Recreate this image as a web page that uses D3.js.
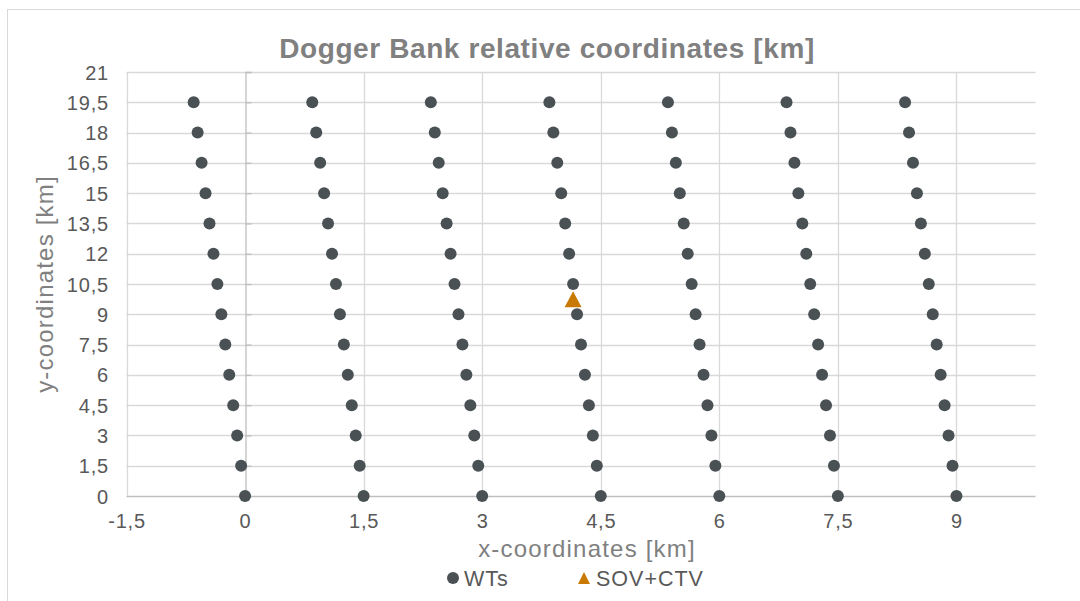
<!DOCTYPE html>
<html>
<head>
<meta charset="utf-8">
<script src="https://cdn.jsdelivr.net/npm/d3@7"></script>
<style>
  html, body { margin: 0; padding: 0; background: #fff; }
  svg { display: block; font-family: "Liberation Sans", Arial, sans-serif; }
</style>
</head>
<body>
<svg id="chart" width="1080" height="601"></svg>
<script>
// Row positions (y, km) shared by every turbine string
const rowY = [0, 1.5, 3, 4.5, 6, 7.5, 9, 10.5, 12, 13.5, 15, 16.5, 18, 19.5];

// x positions (km) of each turbine string, listed from row 0 up to row 19,5
const stringA = [0.00, -0.05, -0.10, -0.15, -0.20, -0.25, -0.30, -0.35, -0.40, -0.45, -0.50, -0.55, -0.60, -0.65];
const stringB = [1.50, 1.45, 1.40, 1.35, 1.30, 1.25, 1.20, 1.15, 1.10, 1.05, 1.00, 0.95, 0.90, 0.85];
const stringC = [3.00, 2.95, 2.90, 2.85, 2.80, 2.75, 2.70, 2.65, 2.60, 2.55, 2.50, 2.45, 2.40, 2.35];
const stringD = [4.50, 4.45, 4.40, 4.35, 4.30, 4.25, 4.20, 4.15, 4.10, 4.05, 4.00, 3.95, 3.90, 3.85];
const stringE = [6.00, 5.95, 5.90, 5.85, 5.80, 5.75, 5.70, 5.65, 5.60, 5.55, 5.50, 5.45, 5.40, 5.35];
const stringF = [7.50, 7.45, 7.40, 7.35, 7.30, 7.25, 7.20, 7.15, 7.10, 7.05, 7.00, 6.95, 6.90, 6.85];
const stringG = [9.00, 8.95, 8.90, 8.85, 8.80, 8.75, 8.70, 8.65, 8.60, 8.55, 8.50, 8.45, 8.40, 8.35];
const turbineStrings = [stringA, stringB, stringC, stringD, stringE, stringF, stringG];

// Vessel position (SOV+CTV)
const vesselX = [4.15];
const vesselY = [9.75];

// Axis ticks
const xTicks = [-1.5, 0, 1.5, 3, 4.5, 6, 7.5, 9];
const yTicks = [0, 1.5, 3, 4.5, 6, 7.5, 9, 10.5, 12, 13.5, 15, 16.5, 18, 19.5, 21];
const xTickLabels = ["-1,5", "0", "1,5", "3", "4,5", "6", "7,5", "9"];
const yTickLabels = ["0", "1,5", "3", "4,5", "6", "7,5", "9", "10,5", "12", "13,5", "15", "16,5", "18", "19,5", "21"];

const legendItems = ["WTs", "SOV+CTV"];
const titleText = "Dogger Bank relative coordinates [km]";
const xTitle = "x-coordinates [km]";
const yTitle = "y-coordinates [km]";

const turbineColor = "#495155";
const vesselColor = "#c87a05";
const gridColor = "#d9d9d9";
const axisColor = "#bfbfbf";
const labelColor = "#595959";
const titleColor = "#808080";

const svg = d3.select("#chart");

// Triangle marker path centred on its bounding box
const triPath = (w, h) => `M0,${-h / 2}L${w / 2},${h / 2}L${-w / 2},${h / 2}Z`;

// Chart area frame
svg.append("rect")
  .attr("x", 7.5).attr("y", 9.5)
  .attr("width", 1200).attr("height", 700)
  .attr("fill", "#fff").attr("stroke", "#d9d9d9").attr("stroke-width", 1);

const plot = { left: 126.5, right: 1035.5, top: 72, bottom: 496 };

const x = d3.scaleLinear().domain([-1.5, 10]).range([plot.left, plot.right]);
const y = d3.scaleLinear().domain([0, 21]).range([plot.bottom, plot.top]);

// Gridlines
const grid = svg.append("g");
grid.selectAll("line.h").data(yTicks).join("line")
  .attr("x1", plot.left).attr("x2", plot.right)
  .attr("y1", d => Math.round(y(d)) + 0.5).attr("y2", d => Math.round(y(d)) + 0.5)
  .attr("stroke", d => d === 0 ? axisColor : gridColor).attr("stroke-width", 1.3);
grid.selectAll("line.v").data(xTicks.filter(d => d !== 0)).join("line")
  .attr("x1", d => Math.round(x(d)) + 0.5).attr("x2", d => Math.round(x(d)) + 0.5)
  .attr("y1", plot.top).attr("y2", plot.bottom)
  .attr("stroke", gridColor).attr("stroke-width", 1.3);

// Vertical value axis drawn through x = 0
const yAxis = d3.axisRight(y).tickValues(yTicks).tickSize(6).tickFormat("");
const yAxisG = svg.append("g")
  .attr("transform", `translate(${Math.round(x(0)) + 0.5},0)`)
  .call(yAxis);
yAxisG.selectAll("path.domain").attr("stroke", axisColor).attr("stroke-width", 1.3);
yAxisG.selectAll(".tick line").attr("stroke", axisColor).attr("stroke-width", 1.3);

// Tick labels
const tickFont = "20px";
const tickSpacing = "0.8px";
const xAxis = d3.axisBottom(x).tickValues(xTicks).tickSize(0).tickPadding(0)
  .tickFormat((d, i) => xTickLabels[i]);
const xAxisG = svg.append("g").attr("transform", `translate(0,${plot.bottom})`).call(xAxis);
xAxisG.select("path.domain").remove();
xAxisG.selectAll("text")
  .attr("y", 32).attr("dy", null)
  .attr("fill", labelColor).style("font-size", tickFont).style("letter-spacing", tickSpacing);

const yLabelAxis = d3.axisLeft(y).tickValues(yTicks).tickSize(0).tickPadding(0)
  .tickFormat((d, i) => yTickLabels[i]);
const yLabelG = svg.append("g").attr("transform", `translate(109,0)`).call(yLabelAxis);
yLabelG.select("path.domain").remove();
yLabelG.selectAll("text")
  .attr("x", 0).attr("dy", "0.35em")
  .attr("fill", labelColor).style("font-size", tickFont).style("letter-spacing", tickSpacing);

// Turbines
const turbines = turbineStrings.flatMap(col => col.map((xv, i) => ({ x: xv, y: rowY[i] })));
svg.append("g").selectAll("circle").data(turbines).join("circle")
  .attr("cx", d => x(d.x)).attr("cy", d => y(d.y)).attr("r", 6)
  .attr("fill", turbineColor);

// Vessel
svg.append("g").selectAll("path").data(vesselX.map((v, i) => ({ x: v, y: vesselY[i] }))).join("path")
  .attr("d", triPath(17, 16))
  .attr("transform", d => `translate(${x(d.x)},${y(d.y)})`)
  .attr("fill", vesselColor);

// Titles
svg.append("text").attr("x", 547).attr("y", 58).attr("text-anchor", "middle")
  .attr("fill", titleColor).style("font-size", "28px").style("font-weight", "bold")
  .style("letter-spacing", "0.6px")
  .text(titleText);
svg.append("text").attr("x", 587).attr("y", 557).attr("text-anchor", "middle")
  .attr("fill", titleColor).style("font-size", "24px").style("letter-spacing", "1.2px")
  .text(xTitle);
svg.append("text").attr("transform", "translate(53,284) rotate(-90)").attr("text-anchor", "middle")
  .attr("fill", titleColor).style("font-size", "24px").style("letter-spacing", "1.2px")
  .text(yTitle);

// Legend
const legend = svg.append("g");
legend.append("circle").attr("cx", 453).attr("cy", 578).attr("r", 6).attr("fill", turbineColor);
legend.append("text").attr("x", 464).attr("y", 586).attr("fill", labelColor)
  .style("font-size", "21.5px").style("letter-spacing", "1px").text(legendItems[0]);
legend.append("path").attr("d", triPath(12, 12))
  .attr("transform", "translate(584,578)").attr("fill", vesselColor);
legend.append("text").attr("x", 596).attr("y", 586).attr("fill", labelColor)
  .style("font-size", "21.5px").style("letter-spacing", "1px").text(legendItems[1]);
</script>
</body>
</html>
